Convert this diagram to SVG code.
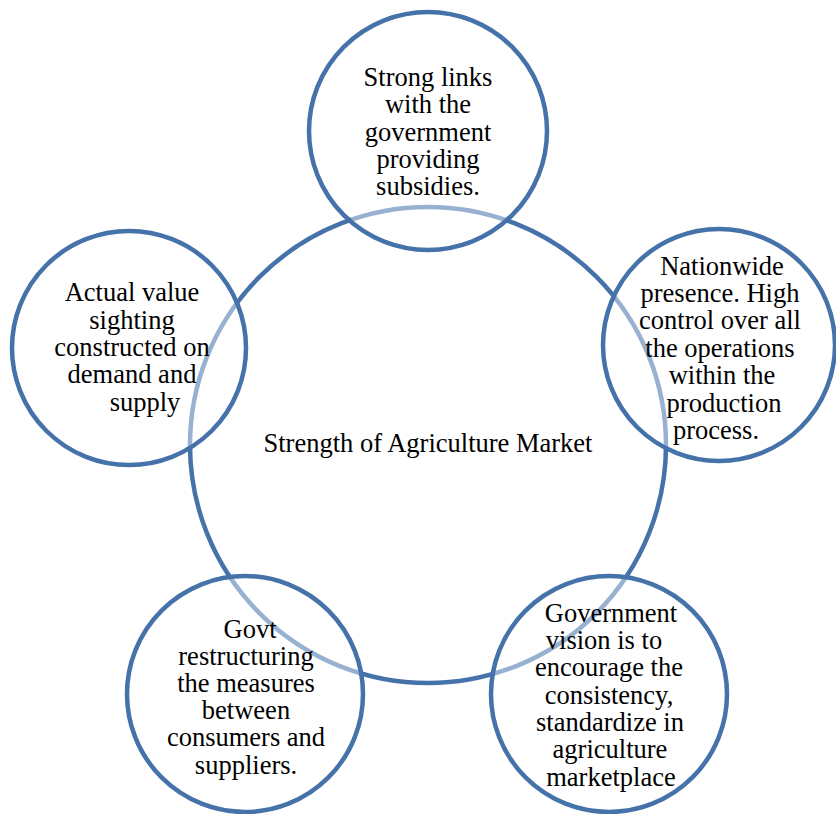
<svg xmlns="http://www.w3.org/2000/svg" width="836" height="814" viewBox="0 0 836 814">
<style>
.c{stroke:#4672aa;stroke-width:4.5}
.big{fill:#ffffff}
.sm{fill:#ffffff;fill-opacity:0.45}
text{font-family:"Liberation Serif","Times New Roman",serif;font-size:26.5px;fill:#000;text-anchor:middle}
</style>
<rect width="836" height="814" fill="#ffffff"/>
<g id="center">
<circle class="c big" cx="428" cy="445" r="238"/>
<text x="428" y="452">Strength of Agriculture Market</text>
</g>
<g id="top">
<circle class="c sm" cx="428" cy="131" r="119"/>
<text x="428" y="86">Strong links</text>
<text x="428" y="113">with the</text>
<text x="428" y="141">government</text>
<text x="428" y="168">providing</text>
<text x="428" y="195">subsidies.</text>
</g>
<g id="right">
<circle class="c sm" cx="719" cy="345" r="116"/>
<text x="722" y="275">Nationwide</text>
<text x="720" y="302">presence. High</text>
<text x="720" y="329">control over all</text>
<text x="720" y="357">the operations</text>
<text x="722" y="384">within the</text>
<text x="724" y="412">production</text>
<text x="716" y="439">process.</text>
</g>
<g id="bottomright">
<circle class="c sm" cx="609" cy="694" r="118"/>
<text x="611" y="622">Government</text>
<text x="604" y="649">vision is to</text>
<text x="609" y="676">encourage the</text>
<text x="609" y="704">consistency,</text>
<text x="610" y="731">standardize in</text>
<text x="610" y="758">agriculture</text>
<text x="611" y="786">marketplace</text>
</g>
<g id="bottomleft">
<circle class="c sm" cx="245" cy="694" r="118"/>
<text x="250" y="638">Govt</text>
<text x="246" y="665">restructuring</text>
<text x="246" y="692">the measures</text>
<text x="246" y="719">between</text>
<text x="246" y="746">consumers and</text>
<text x="246" y="774">suppliers.</text>
</g>
<g id="left">
<circle class="c sm" cx="129" cy="348" r="117"/>
<text x="132" y="301">Actual value</text>
<text x="132" y="329">sighting</text>
<text x="132" y="356">constructed on</text>
<text x="132" y="383">demand and</text>
<text x="145" y="411">supply</text>
</g>
<g id="connectors"></g>
</svg>
